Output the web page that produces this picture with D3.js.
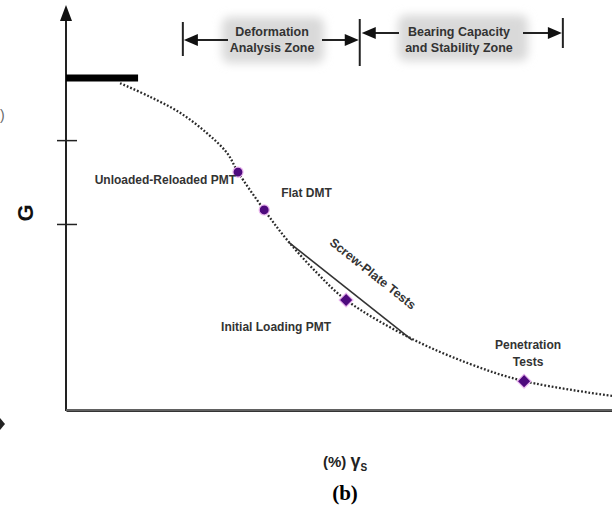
<!DOCTYPE html>
<html>
<head>
<meta charset="utf-8">
<script src="https://cdn.jsdelivr.net/npm/d3@7"></script>
<style>
  html, body { margin: 0; padding: 0; background: #fff; }
  svg { display: block; }
  text { font-family: "Liberation Sans", Arial, sans-serif; font-weight: bold; fill: #333; }
</style>
</head>
<body>
<svg id="chart" width="612" height="508"></svg>
<script>
// Shear modulus G versus shear strain: degradation curve (relative units 0-100)
const curveStrain = [9.9, 15.4, 20.9, 25.8, 29.5, 31.5, 36.3, 40.5, 46.0, 51.3, 63.0, 74.0, 83.9, 100];
const curveG      = [83.8, 80.3, 76.2, 71.0, 65.9, 61.0, 51.3, 43.6, 35.1, 28.2, 18.5, 11.8, 7.4, 3.6];

// Gmax plateau (small-strain stiffness)
const gmaxStrain = [0, 13.2];
const gmaxValue = 85.1;

// In-situ test methods plotted on the curve
const testNames  = ["Unloaded-Reloaded PMT", "Flat DMT", "Initial Loading PMT", "Penetration Tests"];
const testStrain = [31.5, 36.3, 51.3, 83.9];
const testG      = [61.0, 51.3, 28.2, 7.4];
const testShape  = ["circle", "circle", "diamond", "diamond"];

// Screw-plate test secant line
const screwStrain = [40.7, 63.4];
const screwG      = [43.1, 17.9];

// Zone boundaries along the strain axis
const zoneBounds = [21.4, 53.8, 91.0];
const zoneNames  = [["Deformation", "Analysis Zone"], ["Bearing Capacity", "and Stability Zone"]];

// Unlabelled tick marks on the G axis
const gTicks = [47.7, 69.2];

const svg = d3.select("#chart");
const x = d3.scaleLinear().domain([0, 100]).range([66, 612]);
const y = d3.scaleLinear().domain([0, 100]).range([410, 20]);

const defs = svg.append("defs");
defs.append("filter").attr("id", "soft").attr("x", "-30%").attr("y", "-50%").attr("width", "160%").attr("height", "200%")
  .append("feGaussianBlur").attr("stdDeviation", 5);

// Fragments from the neighbouring panel at the left edge
svg.append("text").attr("x", 0).attr("y", 120).style("font-weight", "normal").style("font-size", "14px").style("fill", "#666").text(")");
svg.append("path").attr("d", "M0,418 L5,424 L0,430 Z").attr("fill", "#222");

// Zone header backgrounds
const hdr = svg.append("g");
[[222, 17, 102, 46], [398, 15, 130, 46]].forEach(b => {
  hdr.append("rect").attr("x", b[0]).attr("y", b[1]).attr("width", b[2]).attr("height", b[3])
    .attr("rx", 8).attr("fill", "#d9d9d9").attr("filter", "url(#soft)");
});

function arrowHead(g, tipX, tipY, dir) {
  const L = 14, H = 6;
  g.append("path")
    .attr("d", `M${tipX},${tipY} L${tipX - dir * L},${tipY - H} L${tipX - dir * L},${tipY + H} Z`)
    .attr("fill", "#111");
}

const zb = zoneBounds.map(x);
const zg = svg.append("g").attr("stroke", "#222").attr("stroke-width", 2);
// boundary bars
zg.append("line").attr("x1", zb[0]).attr("x2", zb[0]).attr("y1", 22).attr("y2", 56);
zg.append("line").attr("x1", zb[1]).attr("x2", zb[1]).attr("y1", 19).attr("y2", 66);
zg.append("line").attr("x1", zb[2]).attr("x2", zb[2]).attr("y1", 18).attr("y2", 48);
// deformation zone arrows
zg.append("line").attr("x1", 228).attr("x2", zb[0] + 10).attr("y1", 40).attr("y2", 40);
arrowHead(svg, zb[0] + 1, 40, -1);
zg.append("line").attr("x1", 322).attr("x2", zb[1] - 10).attr("y1", 40).attr("y2", 40);
arrowHead(svg, zb[1] - 1, 40, 1);
// bearing zone arrows
zg.append("line").attr("x1", 399).attr("x2", zb[1] + 10).attr("y1", 33).attr("y2", 33);
arrowHead(svg, zb[1] + 2, 33, -1);
zg.append("line").attr("x1", 523).attr("x2", zb[2] - 10).attr("y1", 33).attr("y2", 33);
arrowHead(svg, zb[2] - 1, 33, 1);

const zoneCenters = [272, 459];
zoneNames.forEach((lines, i) => {
  lines.forEach((t, j) => {
    svg.append("text").attr("x", zoneCenters[i]).attr("y", 35.5 + j * 16)
      .attr("text-anchor", "middle").style("font-size", "12.5px").text(t);
  });
});

// Axes
const yAxis = d3.axisLeft(y).tickValues(gTicks).tickSize(9).tickFormat("");
const ya = svg.append("g").attr("transform", `translate(${x(0)},0)`).call(yAxis);
ya.select(".domain").remove();
ya.selectAll(".tick line").attr("x2", -9).attr("x1", 11).attr("stroke", "#222").attr("stroke-width", 1.5);
svg.append("line").attr("x1", x(0)).attr("x2", x(0)).attr("y1", y(0) + 1).attr("y2", 18)
  .attr("stroke", "#222").attr("stroke-width", 2);
svg.append("path").attr("d", `M${x(0)},5 L${x(0) - 6},21 L${x(0) + 6},21 Z`).attr("fill", "#111");

const xAxis = d3.axisBottom(x).tickValues([]).tickSizeOuter(0);
const xa = svg.append("g").attr("transform", `translate(0,${y(0)})`).call(xAxis);
xa.select(".domain").attr("stroke", "#333").attr("stroke-width", 3);
svg.append("line").attr("x1", x(0)).attr("x2", x(100)).attr("y1", y(0)).attr("y2", y(0))
  .attr("stroke", "#aaa").attr("stroke-width", 0.8);

// Gmax plateau
svg.append("line").attr("x1", x(gmaxStrain[0])).attr("x2", x(gmaxStrain[1]))
  .attr("y1", y(gmaxValue)).attr("y2", y(gmaxValue))
  .attr("stroke", "#000").attr("stroke-width", 7);

// Degradation curve (dotted)
const pts = curveStrain.map((s, i) => [x(s), y(curveG[i])]);
svg.append("path").datum(pts)
  .attr("d", d3.line().curve(d3.curveCatmullRom.alpha(0.5)))
  .attr("fill", "none").attr("stroke", "#2a2a2a").attr("stroke-width", 2.3)
  .attr("stroke-dasharray", "1.8,1.9");

// Screw-plate line
svg.append("line")
  .attr("x1", x(screwStrain[0])).attr("y1", y(screwG[0]))
  .attr("x2", x(screwStrain[1])).attr("y2", y(screwG[1]))
  .attr("stroke", "#333").attr("stroke-width", 1.6);
const sx = (x(screwStrain[0]) + x(screwStrain[1])) / 2, sy = (y(screwG[0]) + y(screwG[1])) / 2;
const ang = Math.atan2(y(screwG[1]) - y(screwG[0]), x(screwStrain[1]) - x(screwStrain[0])) * 180 / Math.PI;
svg.append("text").attr("transform", `translate(${sx + 20},${sy - 14}) rotate(${ang})`)
  .attr("text-anchor", "middle").style("font-size", "12.5px").text("Screw-Plate Tests");

// Test markers
testNames.forEach((n, i) => {
  const px = x(testStrain[i]), py = y(testG[i]);
  const isCircle = testShape[i] === "circle";
  const sym = d3.symbol().type(isCircle ? d3.symbolCircle : d3.symbolSquare).size(isCircle ? 80 : 95);
  svg.append("path").attr("d", sym())
    .attr("transform", `translate(${px},${py})` + (isCircle ? "" : " rotate(45)"))
    .attr("fill", "#4e0a7e").attr("stroke", "#eab6ee").attr("stroke-width", 1.2);
});

// Test labels
const lp = testNames.map((n, i) => [x(testStrain[i]), y(testG[i])]);
svg.append("text").attr("x", lp[0][0] - 2).attr("y", lp[0][1] + 12).attr("text-anchor", "end")
  .style("font-size", "12px").text(testNames[0]);
svg.append("text").attr("x", lp[1][0] + 17).attr("y", lp[1][1] - 13)
  .style("font-size", "12px").text(testNames[1]);
svg.append("text").attr("x", lp[2][0] - 125).attr("y", lp[2][1] + 31)
  .style("font-size", "12px").text(testNames[2]);
const pen = testNames[3].split(" ");
pen.forEach((t, j) => {
  svg.append("text").attr("x", lp[3][0] + 4).attr("y", lp[3][1] - 32 + j * 16.5)
    .attr("text-anchor", "middle").style("font-size", "12px").text(t);
});

// Axis titles
svg.append("text").attr("transform", "translate(33,213) rotate(-90)").attr("text-anchor", "middle")
  .style("font-size", "22px").style("fill", "#111").text("G");
const xt = svg.append("text").attr("x", 345).attr("y", 467).attr("text-anchor", "middle")
  .style("font-size", "15px").style("fill", "#222");
xt.append("tspan").text("(%) ");
xt.append("tspan").style("font-size", "18px").text("γ");
xt.append("tspan").attr("dy", 4).style("font-size", "10px").text("S");

svg.append("text").attr("x", 345).attr("y", 500).attr("text-anchor", "middle")
  .style("font-family", "'Liberation Serif', 'Times New Roman', serif")
  .style("font-size", "21px").style("fill", "#000").text("(b)");
</script>
</body>
</html>
